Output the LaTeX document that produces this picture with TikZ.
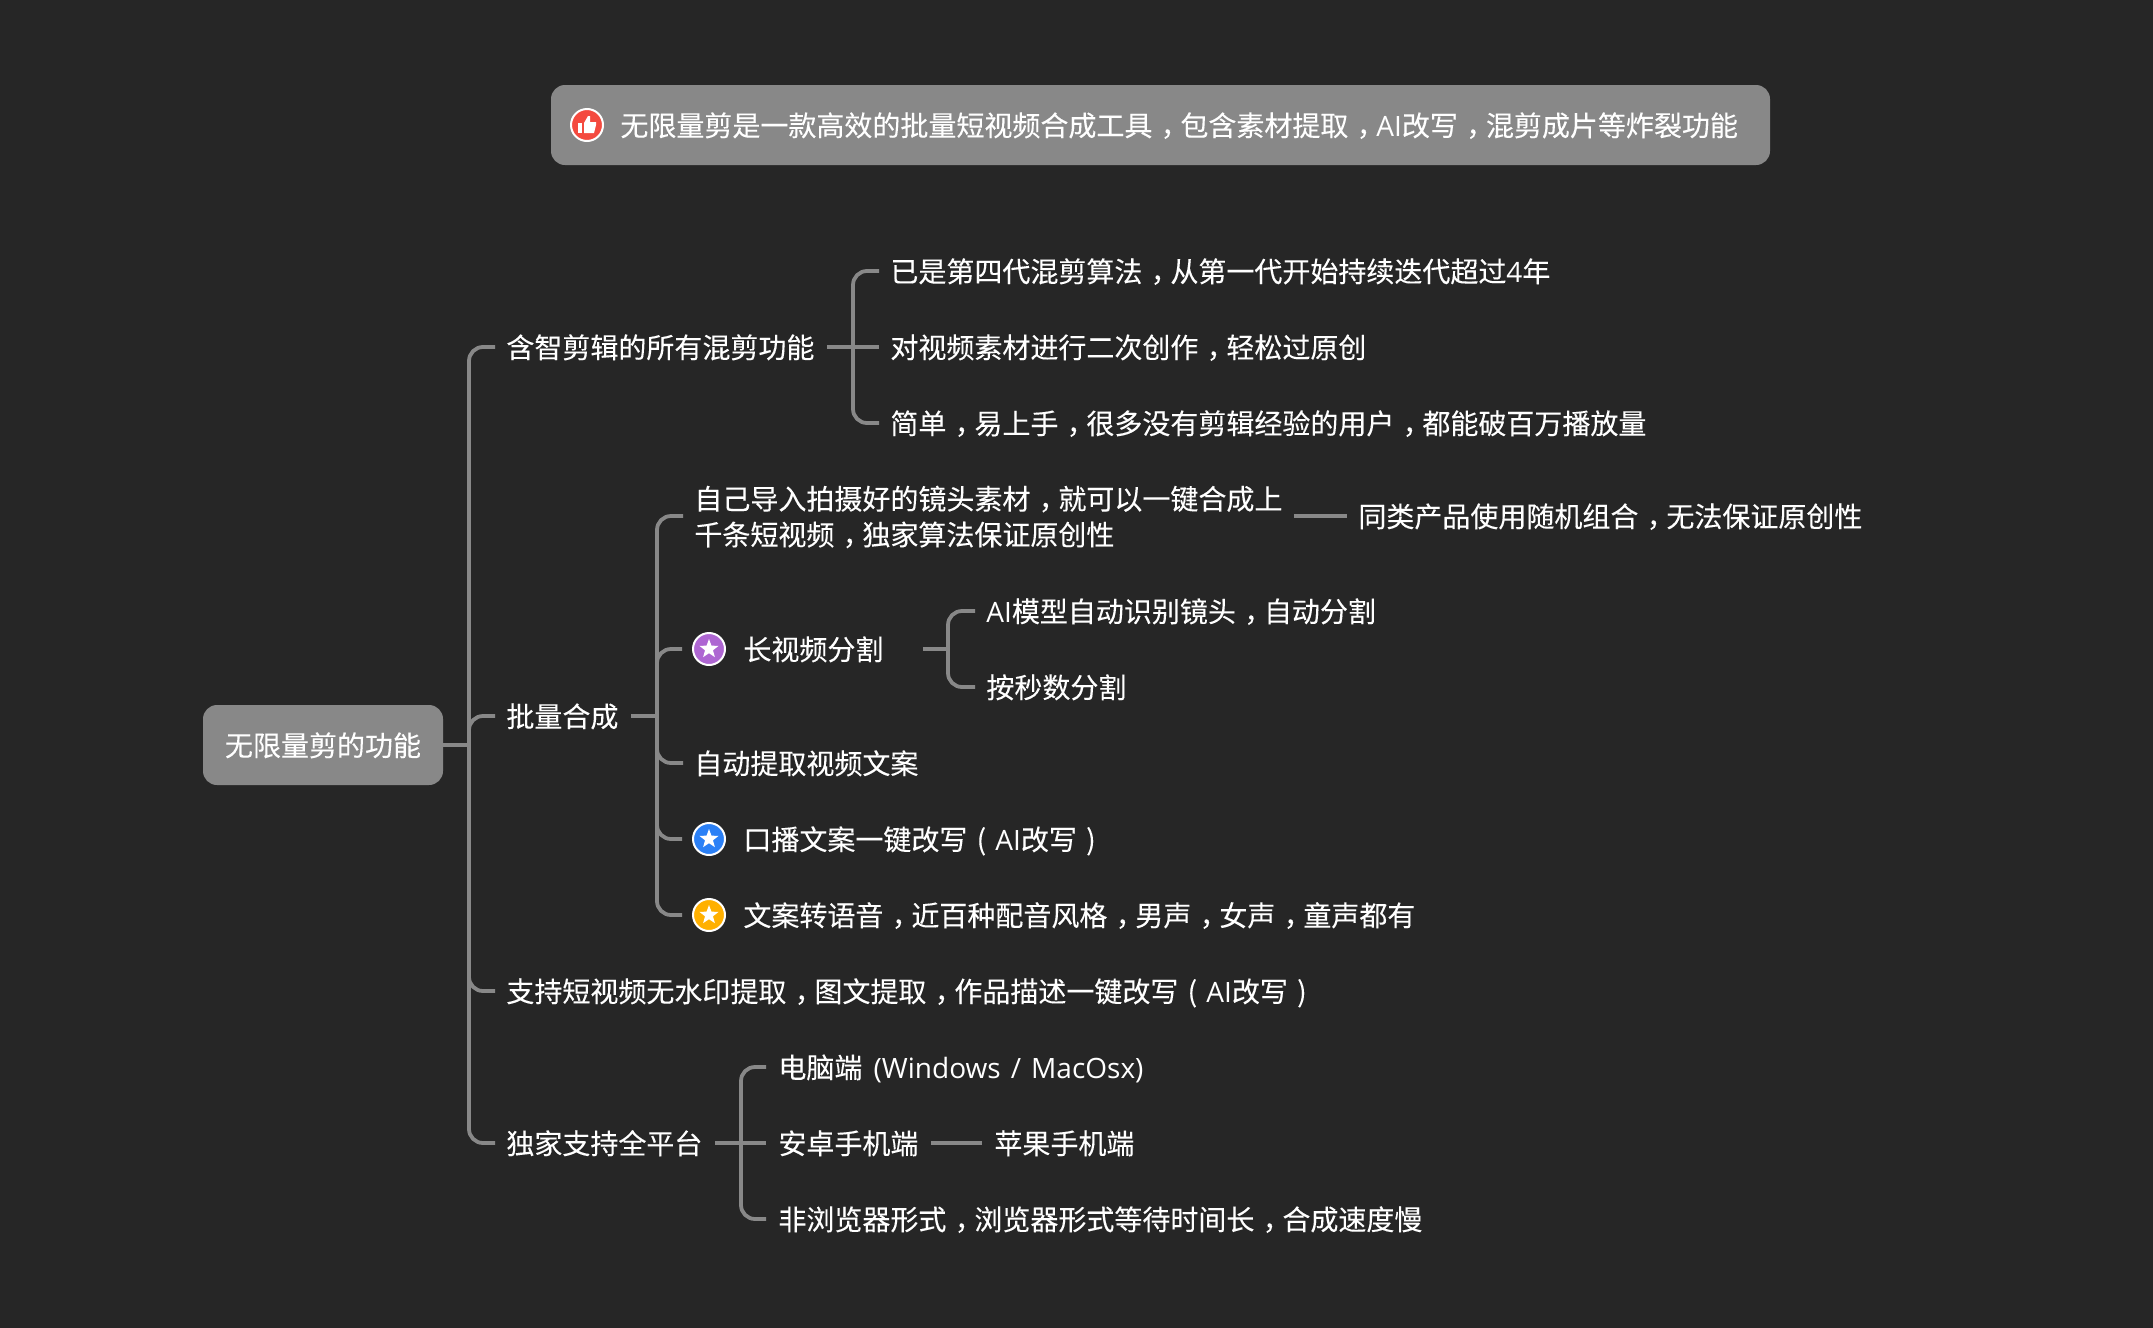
\documentclass[tikz,border=0pt]{standalone}
\usepackage{fontspec}
\setmainfont{Noto Sans CJK SC}[FakeBold=0.12]
\newfontfamily\latinfont{Open Sans}
\newcommand{\zhcomma}{\makebox[1em][l]{\kern0.3em ，}}
\newcommand{\wideopen}{\makebox[1em][c]{(}}
\newcommand{\wideclose}{\makebox[1em][c]{)}}
\newcommand{\aiword}{{\latinfont AI}}
\usetikzlibrary{shapes.geometric}
\definecolor{bgdark}{HTML}{262626}
\definecolor{linegray}{HTML}{888888}
\definecolor{thumbred}{HTML}{F44A3F}
\definecolor{starpurple}{HTML}{AE66D2}
\definecolor{starblue}{HTML}{2B80F6}
\definecolor{staryellow}{HTML}{FFB000}
\tikzset{
    grayBox/.style={fill=linegray, rounded corners=7pt, text=white, text height=12pt, text depth=1pt, font=\fontsize{14pt}{17pt}\selectfont},
    plainTopic/.style={anchor=west, inner sep=0pt, text=white, align=left, font=\fontsize{14pt}{17.9pt}\selectfont},
    topic/.style={plainTopic, text height=12pt, text depth=1pt},
    badge/.style={circle, draw=white, line width=1pt, inner sep=0pt, minimum size=16pt},
    starMark/.style={star, star points=5, star point ratio=2.4, fill=white, inner sep=0pt, minimum size=10pt},
    link/.style={draw=linegray, line width=1.9pt, rounded corners=7pt}
}
\begin{document}
\begin{tikzpicture}[x=0.5pt, y=-0.5pt]
    \fill[bgdark] (0, 0) rectangle (2153, 1328);
    \useasboundingbox (0, 0) rectangle (2153, 1328);

    %summary bar on top
    \node[grayBox, minimum width=609.5pt, minimum height=40pt] (summary) at (1160.5, 125) {};
    \node[badge, fill=thumbred] (thumb) at (587, 125) {};
    \fill[white, shift={(thumb.center)}] (-9, -2) rectangle (-5, 8);
    \fill[white, shift={(thumb.center)}] (-3, -2) -- (1, -9) -- (3, -9) -- (3, -3) -- (9, -3) -- (9, 0) -- (7, 8) -- (-3, 8) -- cycle;
    \node[topic] (summarytext) at (620, 125) {无限量剪是一款高效的批量短视频合成工具\zhcomma 包含素材提取\zhcomma\aiword 改写\zhcomma 混剪成片等炸裂功能};

    %root and first level
    \node[grayBox, minimum width=120pt, minimum height=40pt] (root) at (323, 745) {无限量剪的功能};
    \node[topic] (mix) at (506, 347) {含智剪辑的所有混剪功能};
    \node[topic] (batch) at (506, 716) {批量合成};
    \node[topic] (extract) at (506, 991) {支持短视频无水印提取\zhcomma 图文提取\zhcomma 作品描述一键改写\wideopen\aiword 改写\wideclose};
    \node[topic] (platform) at (506, 1143) {独家支持全平台};

    %children of mix
    \node[topic] (algo) at (890, 271) {已是第四代混剪算法\zhcomma 从第一代开始持续迭代超过{\latinfont 4}年};
    \node[topic] (recreate) at (890, 347) {对视频素材进行二次创作\zhcomma 轻松过原创};
    \node[topic] (easy) at (890, 423) {简单\zhcomma 易上手\zhcomma 很多没有剪辑经验的用户\zhcomma 都能破百万播放量};

    %children of batch
    \node[plainTopic] (importing) at (694, 517) {自己导入拍摄好的镜头素材\zhcomma 就可以一键合成上\\千条短视频\zhcomma 独家算法保证原创性};
    \node[topic] (rival) at (1358, 516) {同类产品使用随机组合\zhcomma 无法保证原创性};
    \node[badge, fill=starpurple] (splitbadge) at (709, 649) {};
    \node[starMark] (splitstar) at (709, 649) {};
    \node[topic] (split) at (743, 649) {长视频分割};
    \node[topic] (aisplit) at (986, 611) {\aiword 模型自动识别镜头\zhcomma 自动分割};
    \node[topic] (secsplit) at (986, 687) {按秒数分割};
    \node[topic] (copytext) at (694, 763) {自动提取视频文案};
    \node[badge, fill=starblue] (rewritebadge) at (709, 839) {};
    \node[starMark] (rewritestar) at (709, 839) {};
    \node[topic] (rewrite) at (743, 839) {口播文案一键改写\wideopen\aiword 改写\wideclose};
    \node[badge, fill=staryellow] (voicebadge) at (709, 915) {};
    \node[starMark] (voicestar) at (709, 915) {};
    \node[topic] (voice) at (743, 915) {文案转语音\zhcomma 近百种配音风格\zhcomma 男声\zhcomma 女声\zhcomma 童声都有};

    %children of platform
    \node[topic] (desktop) at (778, 1067) {电脑端\hspace{0.4em}{\latinfont\spaceskip=0.36em (Windows / MacOsx)}};
    \node[topic] (android) at (778, 1143) {安卓手机端};
    \node[topic] (iphone) at (994, 1143) {苹果手机端};
    \node[topic] (native) at (778, 1219) {非浏览器形式\zhcomma 浏览器形式等待时间长\zhcomma 合成速度慢};

    %junctions of the brackets
    \coordinate (rootjoin) at (469, 745);
    \coordinate (mixjoin) at (853, 347);
    \coordinate (batchjoin) at (657, 716);
    \coordinate (splitjoin) at (948, 649);
    \coordinate (platformjoin) at (741, 1143);

    %root brackets
    \draw[link] (root.east) -- (rootjoin);
    \draw[link] (rootjoin) |- ([xshift=-5.5pt]mix.west);
    \draw[link] (rootjoin) |- ([xshift=-5.5pt]batch.west);
    \draw[link] (rootjoin) |- ([xshift=-5.5pt]extract.west);
    \draw[link] (rootjoin) |- ([xshift=-5.5pt]platform.west);

    %mix bracket
    \draw[link] ([xshift=6pt]mix.east) -- (mixjoin);
    \draw[link] (mixjoin) |- ([xshift=-5.5pt]algo.west);
    \draw[link] (mixjoin) -- ([xshift=-5.5pt]recreate.west);
    \draw[link] (mixjoin) |- ([xshift=-5.5pt]easy.west);

    %batch bracket
    \draw[link] ([xshift=6pt]batch.east) -- (batchjoin);
    \draw[link] (batchjoin) |- ([xshift=-5.5pt]importing.west |- rival.west);
    \draw[link] (batchjoin) |- ([xshift=-5pt]splitbadge.west);
    \draw[link] (batchjoin) |- ([xshift=-5.5pt]copytext.west);
    \draw[link] (batchjoin) |- ([xshift=-5pt]rewritebadge.west);
    \draw[link] (batchjoin) |- ([xshift=-5pt]voicebadge.west);
    \draw[link] ([xshift=5.5pt]importing.east |- rival.west) -- ([xshift=-5.5pt]rival.west);

    %split bracket
    \draw[link] ([xshift=19.5pt]split.east) -- (splitjoin);
    \draw[link] (splitjoin) |- ([xshift=-5.5pt]aisplit.west);
    \draw[link] (splitjoin) |- ([xshift=-5.5pt]secsplit.west);

    %platform bracket
    \draw[link] ([xshift=6pt]platform.east) -- (platformjoin);
    \draw[link] (platformjoin) |- ([xshift=-6pt]desktop.west);
    \draw[link] (platformjoin) -- ([xshift=-6pt]android.west);
    \draw[link] (platformjoin) |- ([xshift=-6pt]native.west);
    \draw[link] ([xshift=6pt]android.east) -- ([xshift=-6pt]iphone.west);
\end{tikzpicture}
\end{document}
